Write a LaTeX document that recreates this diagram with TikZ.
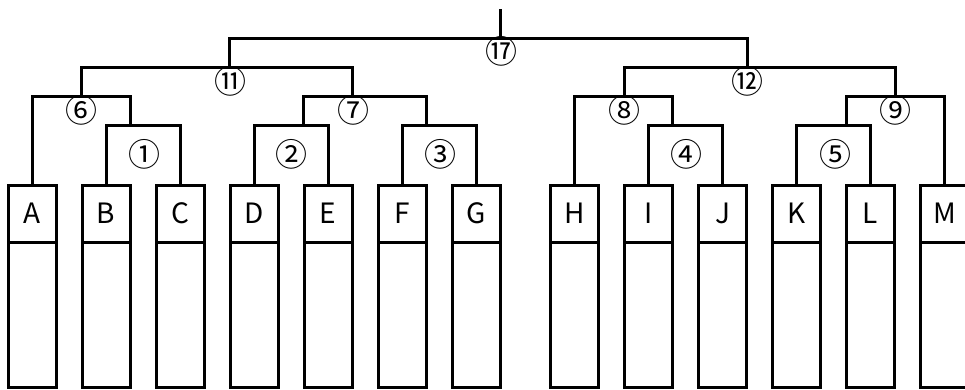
\documentclass[tikz,border=0pt]{standalone}
\usepackage{fontspec}
\newfontfamily\jp{Noto Sans CJK JP}
\begin{document}
\begin{tikzpicture}[x=1pt,y=-1pt,line width=3pt,line join=miter,
  hdr/.style={draw,rectangle,minimum width=48pt,minimum height=57pt,inner sep=0pt,outer sep=0pt,font=\jp\fontsize{28}{28}\selectfont},
  body/.style={draw,rectangle,minimum width=48pt,minimum height=145pt,inner sep=0pt,outer sep=0pt},
  num/.style={inner sep=0pt,font=\jp\fontsize{32}{32}\selectfont}]
\clip (0,0) rectangle (965,390);
\fill[white] (0,0) rectangle (965,390);
% boxes
\foreach \n/\x in {A/32,B/106,C/180,D/254,E/328,F/402,G/476,H/574.5,I/648.5,J/722.5,K/796.5,L/870.5,M/944.5}{
  \node[hdr] (\n) at (\x,213.5) {\n};
  \node[body,anchor=north] (\n b) at (\n.south) {};
}
% junction points
\coordinate (b1) at (130,126);
\coordinate (b2) at (303,126);
\coordinate (b3) at (426.5,126);
\coordinate (b4) at (672.5,126);
\coordinate (b5) at (846,126);
\coordinate (b6) at (81,97);
\coordinate (b7) at (352,97);
\coordinate (b8) at (624,97);
\coordinate (b9) at (895.5,97);
\coordinate (b11) at (229,67.5);
\coordinate (b12) at (747.5,67.5);
\coordinate (b17) at (500.5,38.5);
\coordinate (top) at (500.5,9);
% brackets
\draw (B.north) |- (b1) -| (C.north);
\draw (D.north) |- (b2) -| (E.north);
\draw (F.north) |- (b3) -| (G.north);
\draw (I.north) |- (b4) -| (J.north);
\draw (K.north) |- (b5) -| (L.north);
\draw (A.north) |- (b6) -| (b1);
\draw (b2) |- (b7) -| (b3);
\draw (H.north) |- (b8) -| (b4);
\draw (b5) |- (b9) -| (M.north);
\draw (b6) |- (b11) -| (b7);
\draw (b8) |- (b12) -| (b9);
\draw (b11) |- (b17) -| (b12);
\draw (b17) -- (top);
% labels
\node[num] (l1) at (144.3,154.3) {①};
\node[num] (l2) at (291.7,154.3) {②};
\node[num] (l3) at (440,154.3) {③};
\node[num] (l4) at (686.7,154.3) {④};
\node[num] (l5) at (835,154.3) {⑤};
\node[num] (l6) at (81.7,110) {⑥};
\node[num] (l7) at (353.3,110) {⑦};
\node[num] (l8) at (624,110) {⑧};
\node[num] (l9) at (895,110) {⑨};
\node[num] (l11) at (230,81.7) {⑪};
\node[num] (l12) at (747.7,81) {⑫};
\node[num] (l17) at (501,51) {⑰};
\end{tikzpicture}
\end{document}
